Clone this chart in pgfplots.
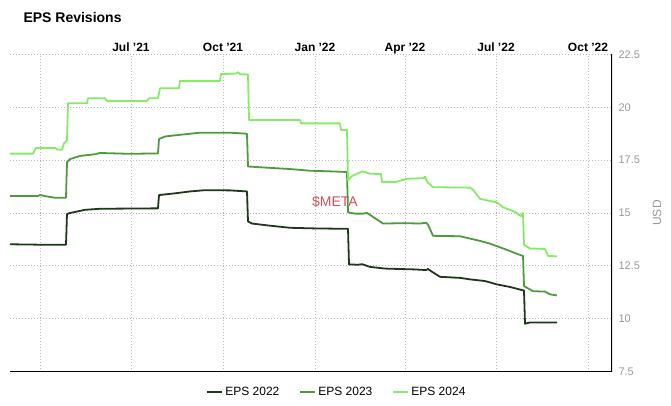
\documentclass[border=0pt]{standalone}
\usepackage{pgfplots}
\pgfplotsset{compat=1.18}
\usepackage{fontspec}
\setmainfont{Liberation Sans}
\definecolor{epsA}{HTML}{1C3A17}
\definecolor{epsB}{HTML}{4F9A3D}
\definecolor{epsC}{HTML}{85EB65}
\definecolor{tickgray}{HTML}{999999}
\definecolor{metared}{HTML}{D0505C}
\begin{document}
\begin{tikzpicture}[x=1pt,y=1pt]
\path[use as bounding box] (0,0) rectangle (671,406);
\node[anchor=base west, font=\bfseries\fontsize{14}{16}\selectfont] at (20,383) {EPS Revisions};
\node[rotate=90, text=tickgray, font=\fontsize{12}{14}\selectfont] at (657,193) {USD};
\begin{axis}[
  at={(10pt,34.5pt)}, anchor=south west,
  scale only axis, width=602pt, height=317pt,
  xmin=-30, xmax=572, ymin=7.5, ymax=22.5,
  axis line style={draw=none},
  xtick={0,91,183,275,365,456,548},
  xticklabels={,Jul '21,Oct '21,Jan '22,Apr '22,Jul '22,Oct '22},
  xticklabel pos=top,
  xticklabel style={font=\bfseries\fontsize{12}{14}\selectfont, anchor=base, yshift=3pt},
  ytick={7.5,10,12.5,15,17.5,20,22.5},
  yticklabels={7.5,10,12.5,15,17.5,20,22.5},
  yticklabel pos=right,
  yticklabel style={font=\fontsize{11}{13}\selectfont, text=tickgray, anchor=west, xshift=3pt},
  major tick length=0pt,
  grid=major,
  major grid style={gray!55, line width=0.8pt, dash pattern=on 0.8pt off 2.2pt},
  legend columns=3,
  legend style={at={(0.543,-0.065)}, anchor=center, draw=none, fill=none,
    font=\fontsize{12}{14}\selectfont,
    /tikz/every even column/.append style={column sep=18pt}},
  legend image code/.code={\draw[#1, line width=2pt] (0pt,0pt) -- (15pt,0pt);},
  every axis plot/.append style={line width=1.8pt, line join=round},
]
\addplot[epsA] coordinates {
(-30,13.52) (0,13.5) (26,13.5) (27,14.95) (30,15.0) (45,15.15) (60,15.2) (118,15.22)
(119,15.85) (135,15.93) (150,16.02) (165,16.08) (190,16.07) (207,16.02)
(208,14.6) (212,14.5) (230,14.4) (250,14.3) (275,14.27) (308,14.25)
(309,12.57) (318,12.55) (322,12.58) (330,12.45) (345,12.37) (375,12.33) (386,12.3)
(388,12.35) (392,12.22) (400,11.98) (420,11.93) (430,11.86) (445,11.78) (457,11.62)
(470,11.5) (484,11.33) (485,9.76) (490,9.82) (517,9.82)
};
\addlegendentry{EPS 2022}
\addplot[epsB] coordinates {
(-30,15.8) (-2,15.8) (0,15.85) (5,15.8) (15,15.72) (26,15.72) (27,17.4) (30,17.55)
(40,17.7) (55,17.78) (60,17.84) (90,17.8) (118,17.82) (119,18.5) (125,18.62)
(140,18.7) (160,18.8) (190,18.8) (207,18.75) (208,17.2) (225,17.15) (250,17.08)
(270,17.0) (290,16.97) (307,16.94) (308,15.03) (315,14.97) (323,14.97) (327,15.0)
(332,14.85) (343,14.5) (365,14.52) (380,14.5) (386,14.54) (388,14.45) (393,13.92)
(420,13.9) (440,13.68) (450,13.55) (465,13.29) (478,13.05) (483,12.97) (484,11.54)
(493,11.3) (505,11.28) (510,11.15) (517,11.1)
};
\addlegendentry{EPS 2023}
\addplot[epsC] coordinates {
(-30,17.81) (-7,17.81) (-4,18.08) (15,18.08) (18,17.99) (22,17.99) (24,18.3)
(27,18.44) (28,20.19) (47,20.19) (48,20.43) (65,20.43) (67,20.3) (107,20.3)
(109,20.43) (118,20.43) (120,20.9) (139,20.9) (140,21.25) (180,21.25) (181,21.57)
(196,21.6) (198,21.66) (200,21.57) (208,21.55) (209,19.4) (260,19.4) (261,19.24)
(300,19.24) (301,18.93) (307,18.93) (308,16.54) (312,16.75) (322,16.97) (330,16.86)
(341,16.84) (342,16.46) (355,16.46) (367,16.62) (384,16.65) (385,16.72) (387,16.48)
(393,16.22) (430,16.2) (433,16.1) (440,15.67) (457,15.5) (463,15.27) (475,15.05)
(481,14.85) (483,15.0) (484,13.49) (490,13.32) (505,13.3) (508,12.97) (517,12.95)
};
\addlegendentry{EPS 2024}
\node[text=metared, font=\fontsize{14}{16}\selectfont] at (axis cs:295,15.51) {\$META};
\draw[black, line width=1.8pt] (rel axis cs:0,0) -- (rel axis cs:1,0) -- (rel axis cs:1,1);
\end{axis}
\end{tikzpicture}
\end{document}
